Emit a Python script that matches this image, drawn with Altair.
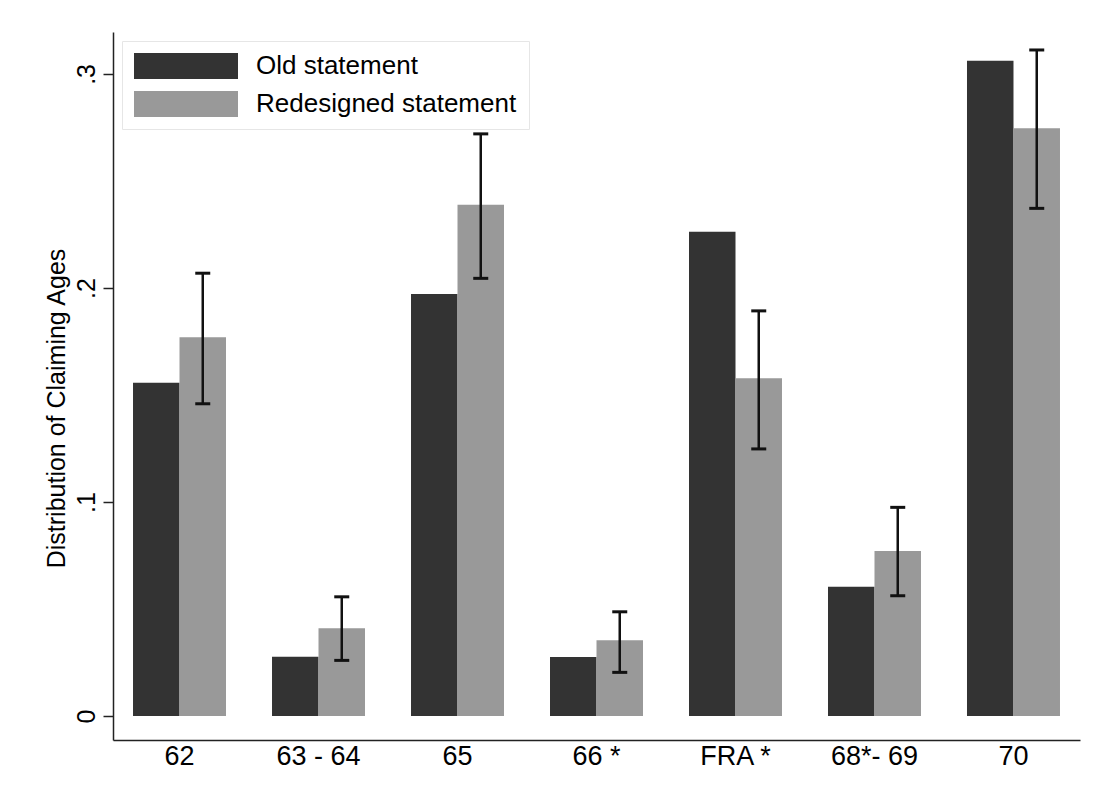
import altair as alt
import pandas as pd

categories = ["62", "63 - 64", "65", "66 *", "FRA *", "68*- 69", "70"]
series = ["Old statement", "Redesigned statement"]
old_share = [0.1557, 0.0277, 0.1972, 0.0276, 0.2263, 0.0604, 0.3062]
new_share = [0.1770, 0.0410, 0.2389, 0.0354, 0.1578, 0.0771, 0.2746]
new_low = [0.1459, 0.0260, 0.2045, 0.0204, 0.1248, 0.0562, 0.2372]
new_high = [0.2069, 0.0557, 0.2720, 0.0487, 0.1893, 0.0975, 0.3112]
y_ticks = [0, 0.1, 0.2, 0.3]

rows = []
for c, o, n in zip(categories, old_share, new_share):
    rows.append({"age": c, "series": series[0], "share": o})
    rows.append({"age": c, "series": series[1], "share": n})
bars_df = pd.DataFrame(rows)
err_df = pd.DataFrame({"age": categories, "series": [series[1]] * len(categories),
                       "low": new_low, "high": new_high})

x_enc = alt.X("age:N", sort=categories,
              scale=alt.Scale(paddingInner=0.331, paddingOuter=0.144),
              axis=alt.Axis(title=None, labelAngle=0, ticks=False, labelPadding=3,
                            labelFontSize=27, labelColor="black",
                            domainColor="#222222", domainWidth=1.5))
xoff = alt.XOffset("series:N", sort=series,
                   scale=alt.Scale(domain=series, paddingInner=0, paddingOuter=0))
y_scale = alt.Scale(domain=[-0.0112, 0.3196], nice=False, zero=False)
y_axis = alt.Axis(values=y_ticks, grid=False,
                  labelExpr="datum.value == 0 ? '0' : '.' + format(datum.value * 10, '.0f')",
                  labelAngle=-90, labelAlign="center", labelBaseline="alphabetic",
                  labelPadding=9, labelFontSize=25, labelColor="black",
                  tickSize=10, tickColor="#222222", tickWidth=1.5,
                  domainColor="#222222", domainWidth=1.5,
                  title="Distribution of Claiming Ages", titleFontSize=25,
                  titleFontWeight="normal", titleColor="black",
                  titleAngle=270, titleAlign="center", titleBaseline="alphabetic",
                  titleX=-49, titleY=376)

bars = alt.Chart(bars_df).mark_bar().encode(
    x=x_enc,
    xOffset=xoff,
    y=alt.Y("share:Q", scale=y_scale, axis=y_axis),
    color=alt.Color("series:N", sort=series,
                    scale=alt.Scale(domain=series, range=["#333333", "#999999"]),
                    legend=alt.Legend(title=None, orient="none", legendX=9, legendY=9,
                                      symbolType="M-1,-1H7V1H-1Z", symbolSize=676,
                                      symbolStrokeWidth=0, symbolOpacity=1,
                                      labelFontSize=26, labelColor="black",
                                      labelOffset=96, rowPadding=12, padding=12,
                                      labelLimit=500,
                                      fillColor="white", strokeColor="#e6e6e6")),
)

err = alt.Chart(err_df).mark_rule(color="#111111", strokeWidth=2.5).encode(
    x=alt.X("age:N", sort=categories),
    xOffset=alt.XOffset("series:N", sort=series),
    y=alt.Y("low:Q"),
    y2="high:Q",
)
cap_lo = alt.Chart(err_df).mark_tick(color="#111111", size=15, thickness=3, opacity=1).encode(
    x=alt.X("age:N", sort=categories),
    xOffset=alt.XOffset("series:N", sort=series),
    y=alt.Y("low:Q"),
)
cap_hi = alt.Chart(err_df).mark_tick(color="#111111", size=15, thickness=3, opacity=1).encode(
    x=alt.X("age:N", sort=categories),
    xOffset=alt.XOffset("series:N", sort=series),
    y=alt.Y("high:Q"),
)

chart = alt.layer(bars, err, cap_lo, cap_hi).properties(
    width=967, height=708,
    autosize=alt.AutoSizeParams(type="none"),
    padding={"left": 105, "top": 24, "right": 14, "bottom": 54},
).configure(font="Liberation Sans").configure_view(stroke=None)

chart.save("out.html", embed_options={"renderer": "svg", "actions": False})
